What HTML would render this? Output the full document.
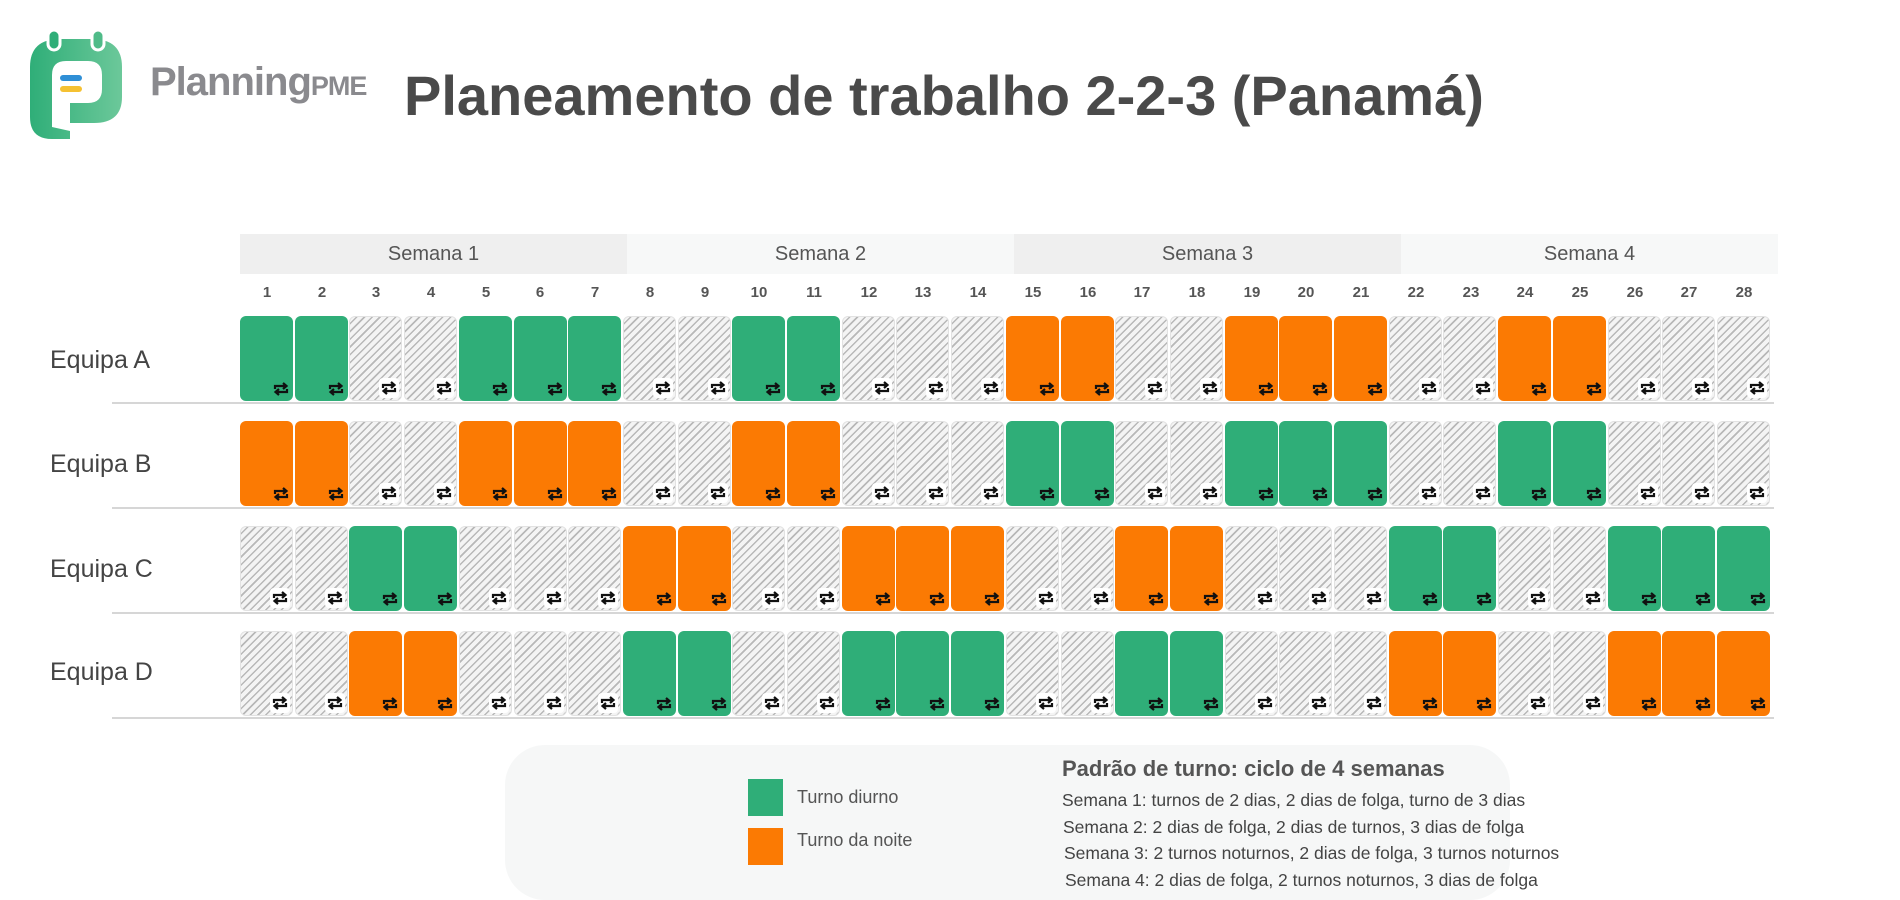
<!DOCTYPE html>
<html><head><meta charset="utf-8"><style>
body{margin:0;width:1900px;height:900px;background:#fff;position:relative;overflow:hidden;font-family:"Liberation Sans",sans-serif;}
.a{position:absolute;}
.title{left:404px;top:63px;font-size:56px;font-weight:bold;color:#4a4a4a;white-space:nowrap;}
.brand{left:150px;top:60px;font-size:40px;font-weight:bold;color:#8a8a8e;letter-spacing:-1px;white-space:nowrap;}
.brand small{font-size:27px;}
.wk{top:234px;height:40px;line-height:40px;text-align:center;font-size:20px;color:#555;}
.dn{top:278px;height:30px;line-height:30px;text-align:center;font-size:15px;font-weight:bold;color:#555;width:54px;}
.team{left:50px;font-size:25px;color:#444;}
.sep{left:112px;width:1662px;height:2px;background:#d6d6d6;}
.cell{position:absolute;width:53px;height:85px;border-radius:6px;}
.G{background:#2fae78;}.N{background:#fb7a03;}
.O{background:#f4f4f4 repeating-linear-gradient(135deg,#f4f4f4 0 4px,#b8b8b8 4px 5.5px);border:1px solid #e2e2e2;box-sizing:border-box;}
.ic{position:absolute;right:2px;bottom:2px;width:20px;height:20px;border-radius:4px;}
.O .ic{background:#fff;}
</style></head><body>
<svg class="a" style="left:22px;top:27px" width="108" height="112" viewBox="0 0 108 112">
<defs><linearGradient id="g" x1="0" x2="1"><stop offset="0" stop-color="#2fae78"/><stop offset="1" stop-color="#6cc89a"/></linearGradient></defs>
<path d="M8 40 Q8 12 38 12 L70 12 Q100 12 100 40 L100 70 Q100 96 72 96 L48 96 L48 112 L30 112 Q8 112 8 90 Z" fill="url(#g)"/>
<rect x="26" y="3" width="12" height="20" rx="6" fill="#2fae78" stroke="#fff" stroke-width="3"/>
<rect x="70" y="3" width="12" height="20" rx="6" fill="#4fbb88" stroke="#fff" stroke-width="3"/>
<path d="M30 100 L30 48 Q30 34 44 34 L66 34 Q80 34 80 48 L80 62 Q80 76 66 76 L48 76 L48 104" fill="#fff"/>
<rect x="38" y="48" width="22" height="6" rx="3" fill="#2f8fd6"/>
<rect x="38" y="59" width="22" height="6" rx="3" fill="#f5c132"/>
</svg>
<div class="a brand">Planning<small>PME</small></div>
<div class="a title">Planeamento de trabalho 2-2-3 (Panamá)</div>

<div class="a wk" style="left:240px;width:387px;background:#efefef">Semana 1</div>
<div class="a wk" style="left:627px;width:387px;background:#f7f8f8">Semana 2</div>
<div class="a wk" style="left:1014px;width:387px;background:#efefef">Semana 3</div>
<div class="a wk" style="left:1401px;width:377px;background:#f7f8f8">Semana 4</div>

<div class="a dn" style="left:240px">1</div><div class="a dn" style="left:295px">2</div><div class="a dn" style="left:349px">3</div><div class="a dn" style="left:404px">4</div><div class="a dn" style="left:459px">5</div><div class="a dn" style="left:513px">6</div><div class="a dn" style="left:568px">7</div>
<div class="a dn" style="left:623px">8</div><div class="a dn" style="left:678px">9</div><div class="a dn" style="left:732px">10</div><div class="a dn" style="left:787px">11</div><div class="a dn" style="left:842px">12</div><div class="a dn" style="left:896px">13</div><div class="a dn" style="left:951px">14</div>
<div class="a dn" style="left:1006px">15</div><div class="a dn" style="left:1061px">16</div><div class="a dn" style="left:1115px">17</div><div class="a dn" style="left:1170px">18</div><div class="a dn" style="left:1225px">19</div><div class="a dn" style="left:1279px">20</div><div class="a dn" style="left:1334px">21</div>
<div class="a dn" style="left:1389px">22</div><div class="a dn" style="left:1444px">23</div><div class="a dn" style="left:1498px">24</div><div class="a dn" style="left:1553px">25</div><div class="a dn" style="left:1608px">26</div><div class="a dn" style="left:1662px">27</div><div class="a dn" style="left:1717px">28</div>

<div class="a team" style="top:346px">Equipa A</div>
<div class="a team" style="top:450px">Equipa B</div>
<div class="a team" style="top:555px">Equipa C</div>
<div class="a team" style="top:658px">Equipa D</div>
<div class="a sep" style="top:402px"></div>
<div class="a sep" style="top:507px"></div>
<div class="a sep" style="top:612px"></div>
<div class="a sep" style="top:717px"></div>

<div id="grid"></div>

<div class="a" style="left:505px;top:745px;width:1005px;height:155px;background:#f6f7f7;border-radius:40px"></div>
<div class="a" style="left:748px;top:779px;width:35px;height:37px;background:#2fae78"></div>
<div class="a" style="left:748px;top:828px;width:35px;height:37px;background:#fb7a03"></div>
<div class="a" style="left:797px;top:787px;font-size:18px;color:#555">Turno diurno</div>
<div class="a" style="left:797px;top:830px;font-size:18px;color:#555">Turno da noite</div>
<div class="a" style="left:1062px;top:756px;font-size:22px;font-weight:bold;color:#555">Padrão de turno: ciclo de 4 semanas</div>
<div class="a" style="left:1062px;top:790px;font-size:17.5px;color:#444">Semana 1: turnos de 2 dias, 2 dias de folga, turno de 3 dias</div>
<div class="a" style="left:1063px;top:817px;font-size:17.5px;color:#444">Semana 2: 2 dias de folga, 2 dias de turnos, 3 dias de folga</div>
<div class="a" style="left:1064px;top:843px;font-size:17.5px;color:#444">Semana 3: 2 turnos noturnos, 2 dias de folga, 3 turnos noturnos</div>
<div class="a" style="left:1065px;top:870px;font-size:17.5px;color:#444">Semana 4: 2 dias de folga, 2 turnos noturnos, 3 dias de folga</div>

<script>
var rows=["GGOOGGGOOGGOOONNOONNNOONNOOO","NNOONNNOONNOOOGGOOGGGOOGGOOO","OOGGOOONNOONNNOONNOOOGGOOGGG","OONNOOOGGOOGGGOOGGOOONNOONNN"];
var ic='<svg class="ic" viewBox="0 0 20 20"><path d="M4 10 V7 H15 M12 4 L15.5 7 L12 10 M16 10 V13 H5 M8 10 L4.5 13 L8 16" fill="none" stroke="#111" stroke-width="2.2"/></svg>';
var h='';
rows.forEach(function(r,ri){for(var i=0;i<28;i++){h+='<div class="cell '+r[i]+'" style="left:'+(240+i*54.7).toFixed(1)+'px;top:'+(316+ri*105)+'px">'+ic+'</div>';}});
document.getElementById('grid').innerHTML=h;
</script>
</body></html>
